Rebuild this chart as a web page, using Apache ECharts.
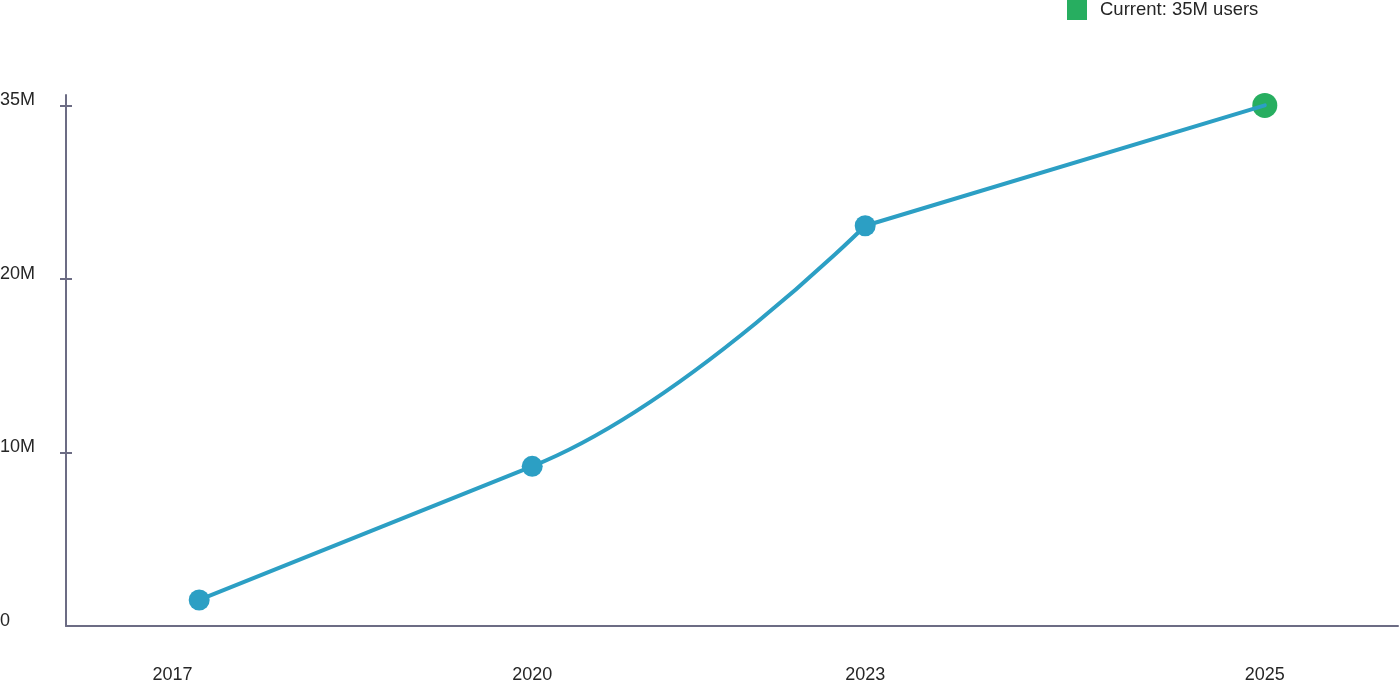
<!DOCTYPE html>
<html>
<head>
<meta charset="utf-8">
<title>User growth</title>
<script src="https://cdn.jsdelivr.net/npm/echarts@6/dist/echarts.min.js"></script>
<style>
  html, body { margin: 0; padding: 0; background: #ffffff; }
  #chart { width: 1400px; height: 681px; }
</style>
</head>
<body>
<div id="chart"></div>
<script>
// ---- data ----
const years = ['2017', '2020', '2023', '2025'];
const usersM = [1.5, 9.2, 24.6, 35];          // millions of users
const yTickValues = [0, 10, 20, 35];          // y labels sit evenly spaced
const currentLabel = 'Current: 35M users';

// x axis runs 0..40, each year has a slot on it
const xSlots = [4, 14, 24, 36];
const xLabelSlots = [3.2, 14, 24, 36];

const BLUE = '#2c9fc4';
const GREEN = '#27ae60';
const AXIS = '#6c6c84';
const TEXT = '#262626';
const FONT = '"Liberation Sans", Arial, sans-serif';

// piecewise scale: value (M) -> tick index position
function toAxis(v) {
  for (let i = 0; i < yTickValues.length - 1; i++) {
    const a = yTickValues[i], b = yTickValues[i + 1];
    if (v <= b) return i + (v - a) / (b - a);
  }
  return yTickValues.length - 1;
}

const points = usersM.map((v, i) => [xSlots[i], toAxis(v)]);
const lastIdx = points.length - 1;
const curveSeg = 2;      // segment ending at 2023 is drawn curved
const curvePull = 0.46;

const chart = echarts.init(document.getElementById('chart'));

const tickIdx = yTickValues.map((_, i) => i);

const option = {
  animation: false,
  textStyle: { fontFamily: FONT },
  grid: { left: 66, right: 2, top: 95, bottom: 55, outerBoundsMode: 'none' },
  legend: {
    data: [currentLabel],
    icon: 'rect',
    left: 1067,
    top: 0,
    padding: 0,
    itemWidth: 20,
    itemHeight: 20,
    textStyle: { fontSize: 18.5, color: TEXT, fontFamily: FONT, padding: [2, 0, 0, 8] }
  },
  xAxis: {
    type: 'value',
    min: 0,
    max: 40,
    axisLine: { show: true, lineStyle: { color: AXIS, width: 2 } },
    axisTick: { show: false },
    splitLine: { show: false },
    axisLabel: {
      customValues: xLabelSlots,
      margin: 40,
      fontSize: 18,
      color: TEXT,
      fontFamily: FONT,
      formatter: v => years[xLabelSlots.indexOf(v)] || ''
    }
  },
  yAxis: [
    {
      type: 'value',
      min: 0,
      max: 3.06,
      axisLine: { show: true, lineStyle: { color: AXIS, width: 2 } },
      axisTick: { show: true, customValues: tickIdx.slice(1), length: 6, lineStyle: { color: AXIS, width: 2 } },
      splitLine: { show: false },
      axisLabel: {
        customValues: tickIdx,
        align: 'left',
        verticalAlign: 'bottom',
        lineHeight: 10,
        margin: 66,
        fontSize: 18,
        color: TEXT,
        fontFamily: FONT,
        formatter: v => {
          const t = yTickValues[Math.round(v)];
          return t === 0 ? '0' : t + 'M';
        }
      }
    },
    {
      // inner half of the cross-shaped ticks
      type: 'value',
      min: 0,
      max: 3.06,
      position: 'left',
      axisLine: { show: false },
      axisLabel: { show: false },
      splitLine: { show: false },
      axisTick: { show: true, inside: true, customValues: tickIdx.slice(1), length: 6, lineStyle: { color: AXIS, width: 2 } }
    }
  ],
  series: [
    {
      name: currentLabel,
      type: 'scatter',
      z: 1,
      symbolSize: 25,
      itemStyle: { color: GREEN, opacity: 1 },
      data: [points[lastIdx]]
    },
    {
      name: 'Users',
      type: 'custom',
      z: 2,
      clip: false,
      encode: { x: 0, y: 1 },
      data: points,
      renderItem: function (params, api) {
        const i = params.dataIndex;
        if (i === 0) return { type: 'group', children: [] };
        const p0 = api.coord(points[i - 1]);
        const p1 = api.coord(points[i]);
        const style = { stroke: BLUE, lineWidth: 4, fill: null, lineCap: 'round' };
        if (i === curveSeg) {
          const pp = api.coord(points[i - 2]);
          return {
            type: 'bezierCurve',
            shape: {
              x1: p0[0], y1: p0[1], x2: p1[0], y2: p1[1],
              cpx1: p0[0] + curvePull * (p0[0] - pp[0]),
              cpy1: p0[1] + curvePull * (p0[1] - pp[1]),
              cpx2: p1[0], cpy2: p1[1]
            },
            style: style
          };
        }
        return {
          type: 'line',
          shape: { x1: p0[0], y1: p0[1], x2: p1[0], y2: p1[1] },
          style: style
        };
      }
    },
    {
      name: 'Points',
      type: 'scatter',
      z: 3,
      symbolSize: 21,
      itemStyle: { color: BLUE, opacity: 1 },
      data: points.slice(0, lastIdx)
    }
  ]
};

chart.setOption(option);
</script>
</body>
</html>
